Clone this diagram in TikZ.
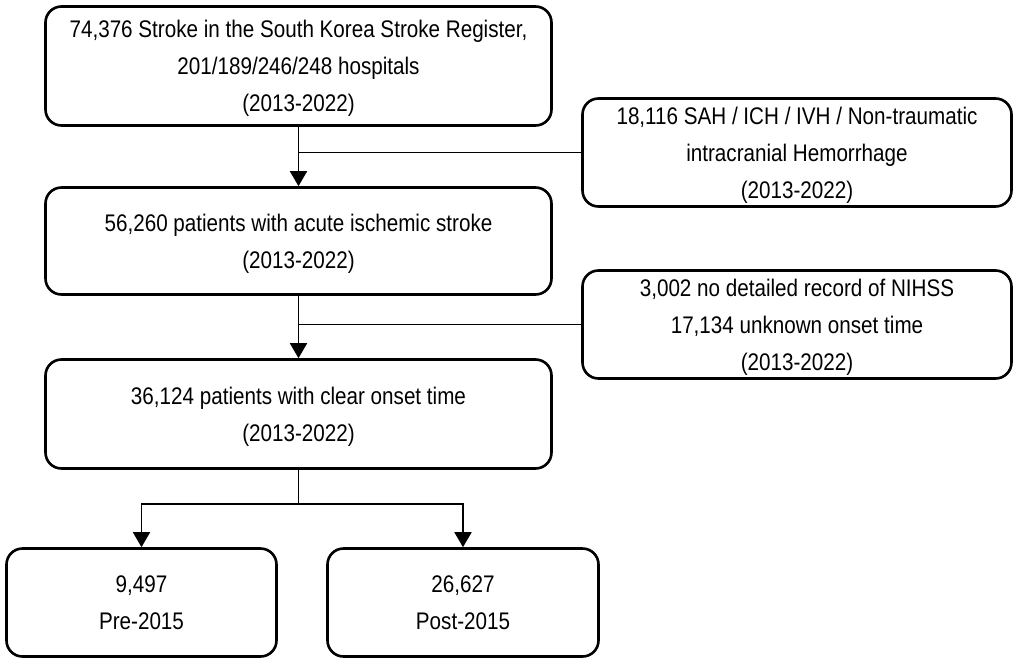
\documentclass[tikz,border=0pt]{standalone}
\usepackage{fontspec}
\setmainfont[FakeStretch=0.86]{Liberation Sans}
\usepackage{tikz}
\usetikzlibrary{arrows.meta}

\tikzset{
    flowbox/.style={draw, line width=2.6, rounded corners=16, align=center, inner sep=0,
        text depth=0pt, font=\fontsize{24}{37}\selectfont},
    conn/.style={line width=1.8},
    arr/.style={conn, -{Triangle[length=15, width=17]}}
}

\begin{document}
\begin{tikzpicture}[x=1pt,y=-1pt]
    \useasboundingbox (0,0) rectangle (1021,662);

    %Shape: Rounded Rect
    \node [flowbox, minimum width=506, minimum height=119] (register) at (298.5,66)
        {74,376 Stroke in the South Korea Stroke Register,\\ 201/189/246/248 hospitals\\ (2013-2022)};
    %Shape: Rounded Rect
    \node [flowbox, minimum width=429, minimum height=108] (hemorrhage) at (797,152.5)
        {18,116 SAH / ICH / IVH / Non-traumatic\\ intracranial Hemorrhage\\ (2013-2022)};
    %Shape: Rounded Rect
    \node [flowbox, minimum width=506, minimum height=107] (ischemic) at (298.5,241)
        {56,260 patients with acute ischemic stroke\\ (2013-2022)};
    %Shape: Rounded Rect
    \node [flowbox, minimum width=429, minimum height=108] (excluded) at (797,324.5)
        {3,002 no detailed record of NIHSS\\ 17,134 unknown onset time\\ (2013-2022)};
    %Shape: Rounded Rect
    \node [flowbox, minimum width=506, minimum height=109] (onset) at (298.5,414)
        {36,124 patients with clear onset time\\ (2013-2022)};
    %Shape: Rounded Rect
    \node [flowbox, minimum width=270, minimum height=108] (pre) at (141.5,602.5)
        {9,497\\ Pre-2015};
    %Shape: Rounded Rect
    \node [flowbox, minimum width=271, minimum height=108] (post) at (463,602.5)
        {26,627\\ Post-2015};

    %Straight Lines
    \draw [arr] (register.south) -- (ischemic.north);
    \draw [conn] (hemorrhage.west) -- (hemorrhage.west -| register.south);
    \draw [arr] (ischemic.south) -- (onset.north);
    \draw [conn] (excluded.west) -- (excluded.west -| ischemic.south);

    %Straight Lines
    \coordinate (split) at ([yshift=-34pt]onset.south);
    \draw [conn] (onset.south) -- (split);
    \draw [arr] (split) -| (pre.north);
    \draw [arr] (split) -| (post.north);
\end{tikzpicture}
\end{document}
